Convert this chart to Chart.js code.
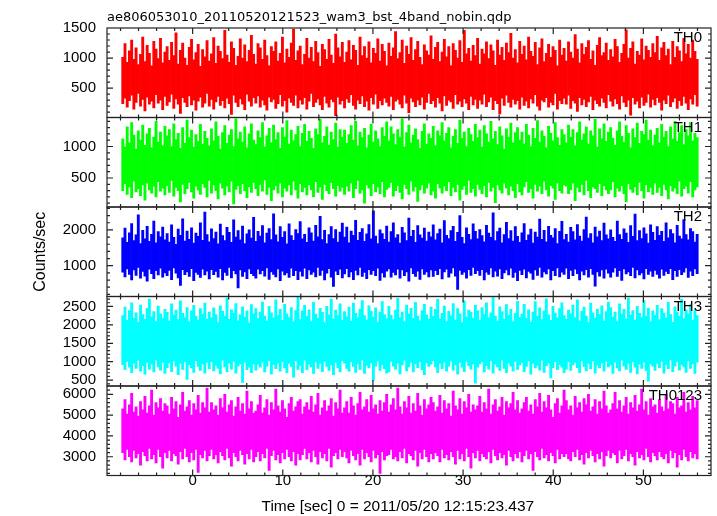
<!DOCTYPE html>
<html>
<head>
<meta charset="utf-8">
<title>ae806053010 WAM light curve</title>
<script src="https://cdn.jsdelivr.net/npm/chart.js@4.4.1/dist/chart.umd.min.js"></script>
<style>
  html, body { margin: 0; padding: 0; background: #fff; }
  #wrap { width: 717px; height: 516px; }
</style>
</head>
<body>
<div id="wrap"><canvas id="lc"></canvas></div>
<script>
// light curve: 260 time bins, lowest and highest
// count rate seen inside each bin (sec from 2011/05/20 12:15:23.437)
const binCentre0 = -7.75;
const binWidth = 0.246;

const th0High = [
  1010, 1240, 930, 1120, 1300, 980, 1170, 890, 1060, 1350, 940, 1210, 1080, 870, 1280, 1150, 990, 1330, 920, 1100,
  1190, 960, 1260, 1040, 1420, 900, 1130, 1250, 1000, 880, 1180, 1310, 970, 1090, 1230, 860, 1140, 1020, 1290, 950,
  1070, 1340, 910, 1200, 1110, 990, 1460, 1050, 930, 1270, 1160, 880, 1030, 1320, 1000, 1220, 940, 1130, 1380, 1060,
  900, 1240, 1170, 980, 1300, 1040, 870, 1190, 1110, 1270, 950, 1080, 1350, 920, 1150, 1010, 1250, 1480, 960, 1120,
  1200, 890, 1060, 1330, 1000, 1180, 940, 1280, 1090, 860, 1230, 1140, 980, 1310, 1050, 910, 1400, 1170, 1020, 1260,
  930, 1100, 1290, 970, 1210, 1130, 880, 1350, 1040, 1190, 1000, 1270, 920, 1160, 1080, 1320, 950, 1230, 1110, 870,
  1250, 1030, 1170, 1440, 990, 1090, 1300, 910, 1200, 1060, 1340, 960, 1140, 1280, 1010, 890, 1220, 1120, 1050, 1370,
  980, 1180, 1260, 940, 1100, 1310, 1020, 1190, 870, 1240, 1130, 1000, 1290, 930, 1460, 1070, 1160, 950, 1210, 1040,
  1330, 900, 1150, 1070, 1270, 990, 1220, 1120, 880, 1300, 1050, 1180, 960, 1250, 1090, 1410, 1000, 1140, 920, 1280,
  1060, 1200, 970, 1350, 1110, 1030, 1260, 890, 1170, 1320, 940, 1080, 1230, 1010, 1190, 1130, 870, 1300, 1050, 1160,
  950, 1270, 1100, 1000, 1390, 1150, 920, 1240, 1060, 1180, 1290, 980, 1120, 880, 1210, 1340, 1040, 1090, 1250, 960,
  1140, 1020, 1310, 1190, 930, 1080, 1230, 1470, 1000, 1160, 1270, 900, 1110, 1050, 1320, 970, 1200, 1130, 1010, 1240,
  1090, 1360, 960, 1170, 1260, 1040, 1150, 890, 1280, 1010, 1190, 1120, 940, 1330, 1070, 1230, 1000, 1300, 1110, 980
];
const th0Low = [
  240, 330, 180, 290, 380, 150, 260, 410, 200, 310, 120, 350, 230, 280, 170, 390, 250, 300, 140, 360,
  210, 270, 400, 160, 320, 230, 80, 340, 260, 190, 370, 220, 300, 130, 280, 350, 180, 250, 410, 200,
  310, 150, 270, 360, 210, 290, 170, 330, 240, 60, 380, 260, 190, 320, 230, 140, 400, 280, 200, 340,
  250, 370, 180, 300, 220, 130, 350, 270, 310, 160, 240, 390, 200, 290, 100, 330, 260, 210, 380, 170,
  300, 230, 340, 150, 280, 410, 190, 260, 320, 220, 140, 360, 250, 180, 310, 270, 40, 350, 230, 290,
  170, 320, 260, 390, 210, 150, 300, 240, 370, 190, 280, 130, 340, 230, 400, 160, 290, 220, 330, 260,
  200, 360, 140, 280, 310, 230, 170, 380, 250, 90, 330, 270, 190, 300, 220, 350, 150, 260, 410, 240,
  290, 180, 340, 250, 120, 370, 210, 300, 270, 160, 390, 230, 280, 190, 320, 250, 140, 360, 220, 310,
  160, 300, 230, 400, 190, 270, 350, 140, 290, 240, 70, 330, 210, 380, 260, 180, 310, 230, 290, 150,
  350, 210, 280, 170, 320, 250, 390, 200, 130, 300, 270, 340, 180, 260, 220, 410, 150, 290, 240, 330,
  230, 380, 160, 290, 250, 110, 340, 220, 310, 190, 270, 360, 140, 300, 240, 200, 330, 260, 170, 390,
  280, 200, 320, 240, 150, 370, 260, 190, 300, 50, 340, 230, 280, 170, 350, 210, 260, 400, 180, 310,
  220, 340, 260, 130, 300, 240, 380, 190, 270, 330, 160, 290, 210, 360, 250, 140, 320, 230, 390, 200
];
const th1High = [
  1120, 990, 1310, 1060, 1380, 1180, 960, 1250, 1100, 1340, 1020, 1200, 1290, 980, 1150, 1400, 1070, 1230, 1010, 1320,
  1170, 1270, 1000, 1360, 1110, 1210, 970, 1300, 1050, 1420, 1140, 1260, 990, 1190, 1080, 1350, 1040, 1240, 1130, 1010,
  1280, 1090, 1390, 1160, 960, 1220, 1330, 1050, 1180, 1270, 1000, 1440, 1120, 1230, 1070, 1310, 980, 1200, 1360, 1100,
  1030, 1250, 1140, 1380, 990, 1170, 1290, 1060, 1340, 1110, 1220, 970, 1300, 1150, 1410, 1040, 1260, 1090, 1190, 1320,
  1000, 1210, 1350, 1080, 1240, 1130, 970, 1280, 1190, 1430, 1060, 1160, 1310, 1020, 1230, 1110, 1370, 990, 1270, 1150,
  1260, 1050, 1190, 1330, 1100, 1400, 1010, 1230, 1140, 1290, 980, 1180, 1350, 1070, 1250, 1120, 1000, 1300, 1160, 1390,
  1090, 1310, 1200, 1030, 1270, 1150, 1440, 990, 1220, 1340, 1060, 1180, 1280, 1110, 970, 1240, 1360, 1040, 1200, 1130,
  1320, 1010, 1250, 1170, 1380, 1090, 1210, 1300, 980, 1160, 1270, 1050, 1420, 1130, 1230, 1000, 1290, 1190, 1080, 1350,
  1140, 1260, 990, 1330, 1200, 1070, 1400, 1120, 1240, 1030, 1310, 1170, 960, 1280, 1150, 1370, 1060, 1220, 1300, 1100,
  1230, 1040, 1350, 1180, 1000, 1290, 1130, 1410, 1070, 1250, 1160, 980, 1320, 1210, 1090, 1380, 1140, 1020, 1270, 1190,
  1060, 1340, 1150, 1270, 1010, 1220, 1390, 1100, 1200, 1310, 1040, 1250, 1170, 1430, 990, 1280, 1120, 1360, 1080, 1230,
  1300, 1130, 1020, 1250, 1390, 1160, 1070, 1330, 1210, 980, 1280, 1140, 1370, 1050, 1240, 1190, 1420, 1100, 1260, 1010,
  1180, 1290, 1060, 1350, 1150, 1240, 1000, 1310, 1120, 1400, 1080, 1220, 1330, 1030, 1270, 1170, 1380, 1090, 1210, 1140
];
const th1Low = [
  300, 410, 240, 360, 190, 450, 280, 330, 220, 390, 150, 420, 310, 260, 370, 200, 440, 290, 340, 230,
  380, 270, 460, 210, 350, 300, 120, 400, 250, 330, 430, 280, 180, 370, 310, 240, 410, 350, 200, 460,
  260, 390, 300, 170, 420, 340, 230, 370, 280, 450, 90, 320, 380, 250, 410, 300, 190, 360, 270, 430,
  330, 220, 400, 290, 470, 240, 350, 140, 310, 380, 260, 420, 200, 340, 290, 390, 230, 450, 310, 180,
  410, 280, 350, 230, 390, 310, 200, 440, 270, 360, 160, 400, 300, 250, 430, 330, 210, 380, 290, 350,
  240, 370, 290, 420, 190, 330, 460, 260, 310, 100, 390, 340, 220, 410, 280, 360, 250, 440, 200, 320,
  350, 430, 210, 300, 380, 270, 170, 400, 330, 240, 450, 290, 360, 130, 310, 390, 260, 340, 420, 230,
  290, 180, 410, 340, 260, 370, 300, 440, 220, 350, 280, 400, 150, 320, 380, 240, 460, 270, 330, 210,
  400, 320, 250, 380, 200, 430, 290, 350, 110, 390, 310, 260, 420, 340, 230, 370, 300, 190, 410, 280,
  230, 360, 440, 270, 330, 180, 400, 290, 370, 250, 450, 310, 210, 380, 340, 160, 420, 300, 260, 390,
  370, 250, 310, 420, 140, 350, 280, 400, 230, 460, 300, 190, 360, 330, 270, 410, 220, 380, 310, 250,
  310, 440, 200, 340, 290, 380, 250, 120, 410, 320, 270, 360, 230, 430, 300, 180, 390, 280, 350, 240,
  420, 270, 350, 220, 400, 310, 170, 380, 290, 340, 250, 450, 210, 330, 370, 260, 440, 200, 310, 360
];
const th2High = [
  1780, 2050, 1650, 1920, 2180, 1700, 1860, 2420, 1620, 1990, 1750, 2100, 1680, 1880, 2250, 1640, 1950, 1810, 2080, 1720,
  1900, 1660, 2140, 1790, 1600, 2020, 1850, 2310, 1690, 1970, 1740, 2060, 1630, 1910, 1820, 2200, 1710, 2500, 1870, 1670,
  2030, 1760, 1940, 1610, 2160, 1840, 1700, 2070, 1930, 1650, 2280, 1800, 1980, 1720, 2110, 1620, 1890, 2000, 1770, 2350,
  1680, 1960, 1830, 2120, 1640, 1910, 2040, 1730, 2450, 1860, 1670, 2090, 1790, 1950, 1610, 2170, 1840, 1710, 2010, 1900,
  2230, 1750, 1880, 1650, 2060, 1920, 1690, 2130, 1810, 2380, 1730, 1990, 1620, 1870, 2090, 1760, 2010, 1660, 1940, 2190,
  1800, 2080, 1640, 1970, 1850, 2270, 1710, 1930, 2040, 1680, 1890, 2150, 1750, 2530, 1830, 1620, 2000, 1900, 1740, 2110,
  1660, 1950, 2200, 1780, 1870, 1630, 2070, 1920, 1700, 2330, 1820, 1990, 1650, 2120, 1860, 1770, 2050, 1690, 1940, 1810,
  2140, 1720, 1900, 2020, 1640, 2260, 1850, 1760, 1980, 2100, 1680, 1930, 2400, 1790, 1620, 2060, 1880, 1730, 2170, 1960,
  1750, 2010, 1840, 1670, 2130, 1910, 1790, 2480, 1700, 1950, 2050, 1640, 1870, 2210, 1760, 1980, 1690, 2090, 1820, 1650,
  1920, 2180, 1710, 1860, 2020, 1630, 1940, 1800, 2300, 1740, 1990, 1670, 2100, 1850, 1780, 2040, 1620, 1960, 2240, 1730,
  1880, 1660, 2070, 1950, 1720, 2150, 1830, 1690, 2010, 2360, 1770, 1900, 1640, 2080, 1810, 1970, 1700, 2190, 1860, 1750,
  2000, 1790, 1680, 2250, 1870, 1740, 2030, 1910, 1650, 2120, 1820, 2440, 1700, 1980, 1760, 2060, 1890, 1630, 2140, 1930,
  1710, 2090, 1850, 1960, 1680, 2200, 1780, 2010, 1900, 1640, 2130, 1830, 1750, 2290, 1870, 1720, 2040, 1950, 1660, 1880
];
const th2Low = [
  820, 690, 910, 760, 600, 880, 730, 950, 650, 840, 710, 570, 900, 780, 640, 860, 740, 930, 680, 800,
  720, 870, 610, 940, 790, 660, 450, 890, 750, 830, 700, 920, 580, 810, 760, 670, 900, 740, 850, 630,
  890, 750, 840, 680, 920, 600, 810, 730, 950, 660, 860, 770, 380, 880, 700, 830, 640, 910, 780, 720,
  650, 900, 770, 860, 710, 940, 620, 830, 760, 690, 910, 580, 850, 740, 800, 670, 930, 720, 860, 610,
  840, 710, 930, 640, 880, 760, 820, 690, 950, 730, 870, 600, 790, 920, 680, 420, 850, 750, 900, 660,
  770, 920, 690, 830, 610, 870, 740, 950, 700, 810, 640, 890, 760, 860, 720, 930, 590, 800, 680, 850,
  910, 680, 810, 740, 900, 650, 880, 720, 830, 570, 940, 780, 700, 850, 620, 910, 760, 830, 690, 880,
  700, 860, 750, 920, 630, 830, 900, 680, 790, 940, 710, 340, 870, 760, 820, 650, 890, 730, 950, 780,
  860, 730, 890, 600, 820, 760, 940, 690, 850, 710, 910, 640, 800, 880, 740, 930, 670, 810, 580, 870,
  750, 900, 660, 840, 790, 620, 880, 730, 950, 680, 830, 770, 910, 600, 860, 720, 940, 690, 820, 760,
  930, 640, 870, 720, 900, 780, 600, 850, 740, 890, 680, 920, 760, 430, 830, 710, 880, 650, 900, 790,
  680, 820, 940, 700, 860, 590, 910, 770, 830, 720, 950, 660, 880, 740, 800, 630, 920, 760, 850, 700,
  870, 760, 650, 900, 730, 840, 780, 920, 610, 860, 700, 890, 750, 820, 940, 670, 850, 720, 910, 780
];
const th3High = [
  2250, 2480, 2120, 2390, 2600, 2180, 2330, 2070, 2540, 2280, 2150, 2450, 2700, 2220, 2360, 2090, 2510, 2300, 2170, 2420,
  2340, 2100, 2570, 2260, 2400, 2140, 2650, 2310, 2200, 2470, 2080, 2380, 2530, 2240, 2130, 2440, 2290, 2590, 2160, 2350,
  2190, 2460, 2280, 2060, 2520, 2370, 2230, 2730, 2150, 2410, 2320, 2580, 2110, 2270, 2490, 2210, 2380, 2050, 2550, 2300,
  2440, 2170, 2350, 2620, 2240, 2100, 2500, 2330, 2190, 2680, 2260, 2420, 2120, 2560, 2300, 2200, 2470, 2080, 2390, 2750,
  2140, 2380, 2530, 2230, 2410, 2090, 2610, 2290, 2180, 2450, 2340, 2060, 2500, 2270, 2700, 2160, 2400, 2250, 2570, 2120,
  2360, 2220, 2480, 2100, 2590, 2310, 2190, 2430, 2660, 2250, 2130, 2520, 2370, 2210, 2460, 2070, 2340, 2630, 2280, 2170,
  2500, 2260, 2140, 2400, 2720, 2200, 2350, 2080, 2540, 2300, 2450, 2180, 2610, 2240, 2110, 2390, 2560, 2270, 2150, 2480,
  2230, 2420, 2690, 2160, 2310, 2510, 2090, 2370, 2250, 2580, 2130, 2440, 2300, 2060, 2650, 2210, 2400, 2340, 2170, 2530,
  2380, 2120, 2470, 2280, 2600, 2190, 2330, 2740, 2240, 2100, 2490, 2360, 2150, 2550, 2260, 2420, 2080, 2310, 2640, 2200,
  2290, 2560, 2180, 2410, 2070, 2350, 2630, 2230, 2460, 2140, 2380, 2710, 2270, 2120, 2500, 2320, 2190, 2440, 2600, 2250,
  2150, 2400, 2300, 2540, 2200, 2680, 2110, 2370, 2480, 2240, 2060, 2590, 2330, 2180, 2430, 2280, 2520, 2100, 2360, 2620,
  2470, 2210, 2350, 2090, 2570, 2290, 2420, 2160, 2730, 2260, 2390, 2130, 2500, 2310, 2200, 2660, 2240, 2450, 2080, 2380,
  2260, 2530, 2140, 2440, 2320, 2190, 2610, 2280, 2070, 2490, 2350, 2230, 2700, 2170, 2410, 2300, 2550, 2120, 2390, 2250
];
const th3Low = [
  920, 780, 1010, 850, 700, 960, 820, 1040, 740, 890, 660, 980, 800, 930, 720, 1050, 860, 770, 990, 680,
  840, 970, 730, 1020, 880, 650, 950, 790, 1000, 520, 910, 830, 710, 1030, 870, 760, 940, 690, 980, 810,
  1000, 750, 900, 820, 670, 1040, 860, 730, 960, 800, 1010, 690, 880, 940, 440, 990, 780, 850, 700, 930,
  770, 930, 850, 990, 720, 880, 1030, 660, 920, 810, 960, 740, 1000, 830, 700, 950, 870, 580, 1020, 790,
  890, 700, 1040, 780, 930, 860, 680, 990, 820, 950, 730, 1010, 870, 760, 910, 650, 980, 840, 720, 1030,
  960, 820, 740, 1000, 870, 710, 940, 790, 1050, 680, 900, 830, 970, 490, 880, 1020, 760, 920, 810, 690,
  730, 1010, 880, 800, 960, 670, 910, 1040, 750, 860, 990, 720, 940, 840, 1000, 780, 650, 970, 870, 930,
  1030, 860, 700, 950, 810, 990, 740, 880, 1020, 770, 920, 660, 980, 850, 730, 1010, 890, 800, 940, 420,
  850, 940, 1000, 720, 890, 800, 1030, 690, 930, 860, 760, 1050, 820, 700, 970, 880, 740, 1010, 790, 910,
  980, 730, 870, 1020, 660, 950, 830, 900, 770, 1040, 710, 890, 960, 560, 840, 1000, 780, 920, 850, 700,
  800, 1000, 760, 910, 980, 840, 700, 1030, 870, 750, 950, 810, 1020, 690, 900, 830, 970, 740, 1010, 860,
  910, 680, 990, 830, 750, 1040, 880, 790, 960, 710, 1000, 850, 670, 930, 820, 990, 760, 470, 940, 880,
  760, 950, 840, 1010, 690, 920, 810, 1050, 730, 880, 1000, 770, 910, 860, 710, 1030, 820, 940, 680, 990
];
const th0123High = [
  5300, 5750, 5050, 5500, 6050, 5150, 5400, 4950, 5650, 5250, 5900, 5100, 5450, 6200, 5000, 5600, 5350, 5800, 5200, 5550,
  5450, 5050, 5850, 5300, 5650, 4900, 5500, 6100, 5200, 5400, 5700, 5000, 5550, 5250, 5950, 5100, 5600, 5350, 6300, 5150,
  5600, 5250, 5450, 5000, 5800, 5350, 6000, 5150, 5500, 5700, 4950, 5400, 5850, 5200, 5550, 5050, 6150, 5300, 5650, 5100,
  5200, 5500, 5950, 5100, 5350, 5750, 5000, 5600, 5250, 6250, 5450, 5150, 5700, 5300, 4900, 5550, 5850, 5200, 5400, 5650,
  5750, 5050, 5400, 5600, 5250, 5900, 5150, 5500, 6050, 5000, 5350, 5700, 5200, 5450, 5800, 4950, 5600, 5300, 6200, 5100,
  5350, 5650, 5100, 5850, 5450, 5000, 5550, 6100, 5250, 5400, 5750, 5150, 5950, 5300, 5500, 5050, 5700, 5200, 5600, 6000,
  5150, 5500, 5800, 5250, 6300, 5400, 5050, 5650, 5350, 5900, 5100, 5550, 5200, 6050, 5450, 5000, 5750, 5300, 5500, 5850,
  5600, 5200, 5400, 5950, 5100, 5700, 5300, 5550, 4950, 6150, 5450, 5250, 5800, 5050, 5650, 5350, 6000, 5150, 5500, 5250,
  5450, 5900, 5150, 5600, 5300, 6250, 5050, 5500, 5750, 5200, 5400, 5850, 5000, 5650, 5350, 5550, 6100, 5250, 5700, 5100,
  5300, 5600, 5850, 5200, 5500, 5050, 5750, 5400, 6050, 5150, 5650, 5350, 5950, 5250, 4900, 5550, 5800, 5100, 5450, 6200,
  5700, 5250, 5450, 5000, 5900, 5350, 5600, 5150, 5800, 5500, 6000, 5200, 5400, 5750, 5050, 5650, 5300, 6150, 5450, 5100,
  5250, 5550, 6100, 5300, 5700, 5150, 5450, 5850, 5050, 5600, 5350, 5950, 5200, 5500, 6250, 5250, 5650, 5000, 5800, 5400,
  5500, 5100, 5750, 5400, 5200, 6000, 5300, 5650, 5550, 5050, 5850, 5350, 5450, 6100, 5150, 5600, 5250, 5900, 5350, 5700
];
const th0123Low = [
  3200, 2850, 3350, 3000, 2750, 3300, 2950, 3150, 2600, 3250, 3050, 2800, 3400, 2900, 3100, 2700, 3350, 3000, 2450, 3200,
  2950, 3300, 2800, 3150, 3050, 2650, 3250, 2900, 3400, 3000, 2750, 3200, 2850, 3350, 2250, 3100, 2950, 3300, 2800, 3050,
  3350, 2900, 3100, 2700, 3250, 3050, 2850, 3400, 2950, 2550, 3200, 3000, 2800, 3300, 3100, 2650, 3150, 2900, 3350, 2750,
  3000, 3250, 2800, 3150, 2950, 3400, 2350, 3050, 3300, 2850, 3100, 2700, 3200, 2900, 3350, 3000, 2800, 3250, 2600, 3150,
  2850, 3100, 3400, 2900, 3200, 2750, 3300, 3000, 2650, 3250, 2950, 3150, 2800, 3400, 2500, 3050, 3200, 2900, 3350, 3000,
  3250, 2950, 2700, 3300, 3050, 2850, 3150, 2600, 3350, 2900, 3200, 3000, 2750, 3300, 2950, 3100, 2200, 3250, 2850, 3050,
  3100, 3350, 2900, 3000, 2800, 3250, 2950, 3400, 2700, 3150, 3050, 2850, 3300, 2550, 3200, 2900, 3350, 3000, 2750, 3150,
  2900, 3200, 3050, 2750, 3350, 2950, 3100, 2850, 3250, 3000, 2650, 3300, 2900, 3150, 2800, 3400, 3000, 2450, 3200, 2950,
  3300, 2800, 3150, 3000, 2900, 3250, 2700, 3350, 3050, 2850, 3200, 2950, 3100, 2600, 3300, 3000, 2800, 3150, 2950, 3250,
  2750, 3050, 3300, 2900, 3150, 2350, 3250, 3000, 2850, 3400, 2950, 3100, 2800, 3200, 3050, 2700, 3350, 2900, 3150, 3000,
  3150, 2900, 2800, 3250, 3000, 3350, 2850, 3100, 2650, 3200, 2950, 3300, 3050, 2750, 3150, 2900, 3250, 2550, 3050, 3300,
  2950, 3200, 3100, 2700, 3300, 2900, 3050, 3350, 2800, 3150, 3000, 2600, 3250, 2950, 3100, 2850, 3400, 3000, 2750, 3200,
  3050, 2850, 3250, 3000, 2900, 3150, 2700, 3300, 2950, 3200, 2500, 3100, 2850, 3350, 3000, 2800, 3250, 2950, 3150, 2900
];

const timeTicks = [0, 10, 20, 30, 40, 50];
const th0Ticks = [500, 1000, 1500];
const th1Ticks = [500, 1000];
const th2Ticks = [1000, 2000];
const th3Ticks = [500, 1000, 1500, 2000, 2500];
const th0123Ticks = [3000, 4000, 5000, 6000];

const timeBins = th0High.map((_, i) => binCentre0 + i * binWidth);

const panels = [
  { name: 'TH0',    lo: th0Low,    hi: th0High,    ticks: th0Ticks,    color: '#ff0000', min: 10,   max: 1500, minor: 100 },
  { name: 'TH1',    lo: th1Low,    hi: th1High,    ticks: th1Ticks,    color: '#00ff00', min: 40,   max: 1460, minor: 100 },
  { name: 'TH2',    lo: th2Low,    hi: th2High,    ticks: th2Ticks,    color: '#0000ff', min: 140,  max: 2640, minor: 200 },
  { name: 'TH3',    lo: th3Low,    hi: th3High,    ticks: th3Ticks,    color: '#00ffff', min: 340,  max: 2770, minor: 100 },
  { name: 'TH0123', lo: th0123Low, hi: th0123High, ticks: th0123Ticks, color: '#ff00ff', min: 2100, max: 6400, minor: 200 }
];

const sansFamily = 'Liberation Sans, Arial, sans-serif';
const labelFont = { family: sansFamily, size: 15 };
const frameColor = '#222';

// qdp style box: frame per panel, inward ticks, band names, file title and time label
const qdpFrame = {
  id: 'qdpFrame',
  afterDatasetsDraw(chart) {
    const { ctx, chartArea } = chart;
    const xs = chart.scales.x;
    ctx.save();
    ctx.strokeStyle = frameColor;
    ctx.lineWidth = 1.2;
    ctx.fillStyle = '#000';
    ctx.font = '15px ' + sansFamily;
    ctx.textAlign = 'right';
    ctx.textBaseline = 'middle';
    panels.forEach((p, i) => {
      const ys = chart.scales['y' + i];
      const top = ys.top, bottom = ys.bottom;
      ctx.strokeRect(chartArea.left, top, chartArea.right - chartArea.left, bottom - top);
      ctx.beginPath();
      for (let t = -8; t <= 56; t += 2) {
        const px = xs.getPixelForValue(t);
        const len = t % 10 === 0 ? 6 : 3;
        ctx.moveTo(px, top); ctx.lineTo(px, top + len);
        ctx.moveTo(px, bottom); ctx.lineTo(px, bottom - len);
      }
      for (let v = Math.ceil(p.min / p.minor) * p.minor; v < p.max; v += p.minor) {
        const py = ys.getPixelForValue(v);
        const len = p.ticks.includes(v) ? 6 : 3;
        ctx.moveTo(chartArea.left, py); ctx.lineTo(chartArea.left + len, py);
        ctx.moveTo(chartArea.right, py); ctx.lineTo(chartArea.right - len, py);
      }
      ctx.stroke();
      ctx.fillText(p.name, chartArea.right - 9, top + 10);
    });
    ctx.textAlign = 'left';
    ctx.textBaseline = 'alphabetic';
    ctx.font = '15.5px ' + sansFamily;
    ctx.fillText('Time [sec] 0 = 2011/05/20 12:15:23.437', 261.5, 510.5);
    ctx.font = '13px DejaVu Sans, sans-serif';
    ctx.fillText('ae806053010_20110520121523_wam3_bst_4band_nobin.qdp', chartArea.left, 21);
    ctx.restore();
  }
};

const scales = {
  x: {
    type: 'linear',
    min: -9.5,
    max: 57.5,
    offset: false,
    grid: { display: false, drawTicks: false },
    border: { display: false },
    afterBuildTicks: s => { s.ticks = timeTicks.map(v => ({ value: v })); },
    afterFit: s => { s.height = 40.5; },
    ticks: { font: labelFont, color: '#000', padding: -4, maxRotation: 0, autoSkip: false, callback: v => String(v) },
    title: { display: false }
  }
};

panels.forEach((p, i) => {
  scales['y' + i] = {
    type: 'linear',
    position: 'left',
    stack: 'bands',
    stackWeight: 1,
    weight: panels.length - i,
    min: p.min,
    max: p.max,
    grid: { display: false, drawTicks: false },
    border: { display: false },
    afterBuildTicks: s => { s.ticks = p.ticks.map(v => ({ value: v })); },
    afterFit: s => { s.width = 107; },
    ticks: { font: labelFont, color: '#000', padding: 11, autoSkip: false, callback: v => String(v) },
    title: i === 2 ? {
      display: true,
      text: 'Counts/sec',
      font: { family: sansFamily, size: 16 },
      color: '#000',
      padding: { top: 31, bottom: 0 }
    } : { display: false }
  };
});

const datasets = panels.map((p, i) => ({
  label: p.name,
  data: timeBins.map((t, k) => ({ x: t, y: [p.lo[k], p.hi[k]] })),
  yAxisID: 'y' + i,
  xAxisID: 'x',
  backgroundColor: p.color,
  borderWidth: 0,
  borderSkipped: false,
  grouped: false,
  barPercentage: 1,
  categoryPercentage: 1
}));

new Chart(document.getElementById('lc'), {
  type: 'bar',
  data: { datasets },
  options: {
    responsive: true,
    maintainAspectRatio: false,
    animation: false,
    layout: { padding: { top: 28, right: 6, left: 0, bottom: 0 } },
    scales,
    plugins: {
      legend: { display: false },
      tooltip: { enabled: false },
      title: { display: false }
    }
  },
  plugins: [qdpFrame]
});
</script>
</body>
</html>
